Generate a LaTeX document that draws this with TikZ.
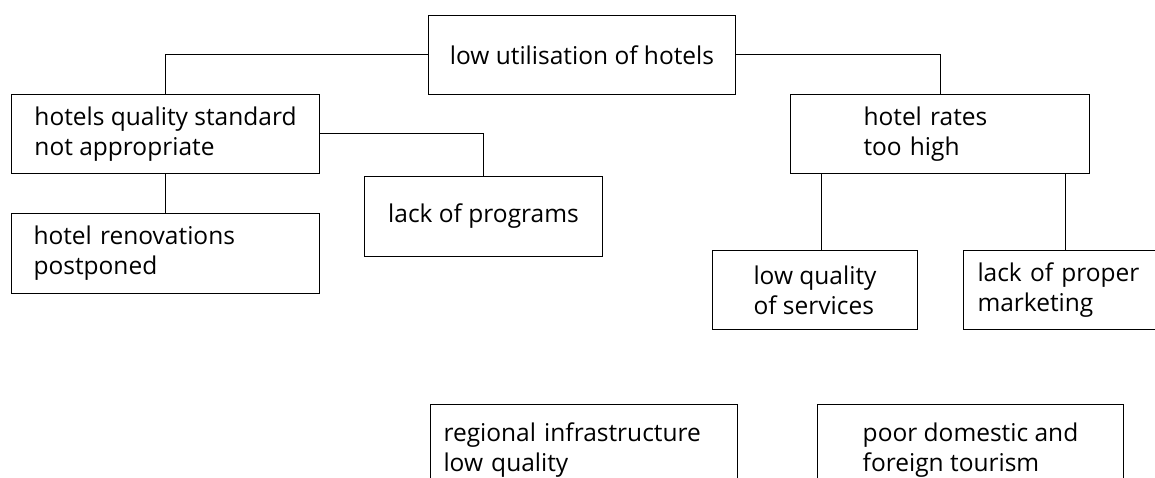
\documentclass[tikz,border=0pt]{standalone}
\usepackage{fontspec}
\setmainfont{Open Sans}

\begin{document}
\begin{tikzpicture}[x=1pt, y=-1pt]
\tikzset{cadre/.style={draw, line width=1pt, anchor=north west, inner sep=0pt, align=left, minimum height=79pt, font=\fontsize{24.5}{30}\selectfont}}
\useasboundingbox (0, 0) rectangle (1155, 478);
\clip (0, 0) rectangle (1155, 478);
\node[cadre, minimum width=307pt] (util) at (428, 15) {low utilisation of hotels};
\node[cadre, minimum width=308pt] (qual) at (11, 94) {hotels quality standard\\not appropriate};
\node[cadre, minimum width=238pt, minimum height=80pt] (prog) at (364, 176) {lack of programs};
\node[cadre, text width=264pt, inner xsep=22pt, minimum height=80pt] (reno) at (11, 213) {hotel renovations\\postponed};
\node[cadre, text width=153pt, inner xsep=73pt] (tarif) at (790, 94) {hotel rates\\too high};
\node[cadre, minimum width=205pt] (serv) at (712, 250) {low quality\\of services};
\node[cadre, text width=176pt, inner xsep=14pt] (mark) at (963, 250) {lack of proper\\marketing};
\node[cadre, text width=281pt, inner xsep=13pt, minimum height=92pt] (infra) at (430, 404) {regional infrastructure\\low quality};
\node[cadre, minimum width=306pt, minimum height=92pt] (tour) at (817, 404) {poor domestic and\\foreign tourism};
\draw[line width=1pt] (util.west) -| (qual.north);
\draw[line width=1pt] (util.east) -| (tarif.north);
\draw[line width=1pt] (qual.east) -| (prog.north);
\draw[line width=1pt] (qual.south) -- (reno.north);
\draw[line width=1pt] ([xshift=6pt]serv.north) -- ([xshift=6pt]serv.north |- tarif.south);
\draw[line width=1pt] (mark.north) -- (mark.north |- tarif.south);
\end{tikzpicture}
\end{document}
